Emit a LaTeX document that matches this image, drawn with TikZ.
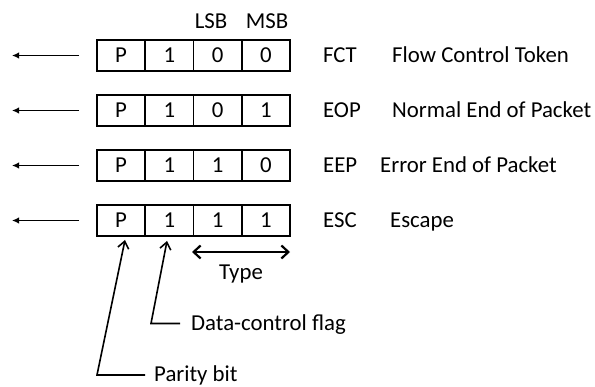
\documentclass[tikz,border=0pt]{standalone}
\usepackage{fontspec}
\setmainfont{Carlito}
\usetikzlibrary{arrows.meta}

\begin{document}
\begin{tikzpicture}[x=1pt,y=-1pt,
  txt/.style={font=\fontsize{22.8}{25}\selectfont},
  cell/.style={txt, draw, line width=1.5pt, minimum width=48.25pt,
               minimum height=31pt, inner sep=0pt},
  lbl/.style={txt, anchor=base west, inner sep=0pt},
  clbl/.style={txt, anchor=base, inner sep=0pt},
  outarrow/.style={line width=1.6pt, -{Latex[length=7pt,width=6.5pt]}},
  pointer/.style={line width=1.6pt, -{Straight Barb[length=7pt,width=11pt]}},
  span/.style={line width=2.2pt, {Straight Barb[length=7pt,width=13pt]}-{Straight Barb[length=7pt,width=13pt]}}
]
\useasboundingbox (0,0) rectangle (595,387);

% the four control characters: parity, data-control flag, two type bits
\foreach \r/\y/\a/\b/\code/\desc/\dx in {
    1/55.5/0/0/FCT/Flow Control Token/392,
    2/110.5/0/1/EOP/Normal End of Packet/392,
    3/165.5/1/0/EEP/Error End of Packet/380,
    4/220.5/1/1/ESC/Escape/390}{
  \node[cell] (p\r) at (121.1,\y) {P};
  \node[cell] (f\r) at (169.4,\y) {1};
  \node[cell] (l\r) at (217.6,\y) {\a};
  \node[cell] (m\r) at (265.9,\y) {\b};
  \node[lbl] (c\r) at (323,\y+7.5) {\code};
  \node[lbl] (d\r) at (\dx,\y+7.5) {\desc};
  \coordinate (s\r) at (79,\y);
  \coordinate (e\r) at (12,\y);
  \draw[outarrow] (s\r) -- (e\r);
}

% bit order
\node[clbl] (lsb) at (211,29) {LSB};
\node[clbl] (msb) at (267,29) {MSB};

% type field
\coordinate (tl) at (192,252);
\coordinate (tr) at (290,252);
\draw[span] (tl) -- (tr);
\node[clbl] (type) at (241,279.5) {Type};

% data-control flag pointer
\node[lbl] (dcf) at (191,331) {Data-control flag};
\coordinate (dcorner) at (151,323.5);
\coordinate (dtip) at (167,241);
\draw[pointer] (dcf.west |- dcorner) ++(-11,0) -- (dcorner) -- (dtip);

% parity bit pointer
\node[lbl] (par) at (154,382) {Parity bit};
\coordinate (pcorner) at (97,375);
\coordinate (ptip) at (125,240);
\draw[pointer] (par.west |- pcorner) ++(-9,0) -- (pcorner) -- (ptip);
\end{tikzpicture}
\end{document}
